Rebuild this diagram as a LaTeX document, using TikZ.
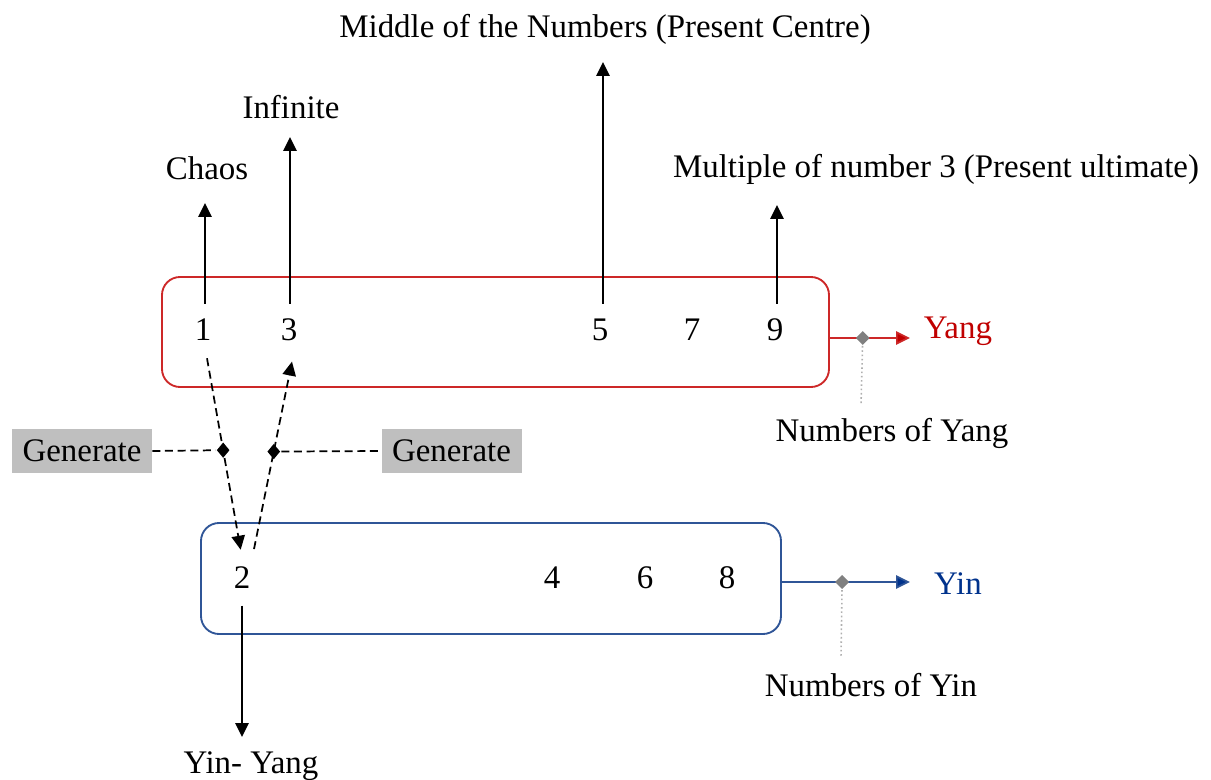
\documentclass[tikz,border=0pt]{standalone}
\usepackage{fontspec}
\setmainfont{Liberation Serif}
\usetikzlibrary{arrows.meta,shapes.geometric}
\definecolor{yangred}{RGB}{205,40,40}
\definecolor{yangtext}{RGB}{192,0,0}
\definecolor{yinblue}{RGB}{47,85,151}
\definecolor{yintext}{RGB}{0,50,140}
\definecolor{genfill}{RGB}{191,191,191}
\definecolor{markgray}{RGB}{128,128,128}
\definecolor{dotgray}{RGB}{175,175,175}
\begin{document}
\begin{tikzpicture}[x=0.75pt,y=-0.75pt,
  every node/.style={font=\fontsize{24.7}{29}\selectfont},
  num/.style={inner sep=0pt,minimum height=39pt},
  lab/.style={inner sep=0pt},
  tip/.style={-{Triangle[length=10.5pt,width=10pt]}},
  arr/.style={line width=1.3pt,tip},
  dashes/.style={line width=1.3pt,dash pattern=on 6pt off 3.5pt},
  darr/.style={dashes,tip},
  group/.style={draw,line width=1.4pt,rounded corners=13.5pt},
  genbox/.style={fill=genfill,inner sep=0pt,minimum width=105pt,minimum height=33pt},
  blackmark/.style={diamond,fill=black,inner sep=0pt,minimum width=10pt,minimum height=12pt},
  graymark/.style={diamond,fill=markgray,inner sep=0pt,minimum width=11pt,minimum height=11pt},
  note/.style={draw=dotgray,line width=1.2pt,dotted}]
\useasboundingbox (0,0) rectangle (1211,780);

% the two groups of numbers
\node[group,draw=yangred,minimum width=500.25pt,minimum height=82.5pt] (yangbox) at (495.5,332) {};
\node[group,draw=yinblue,minimum width=435pt,minimum height=83.25pt] (yinbox) at (491,578.5) {};

% odd numbers
\node[num] (n1) at (203,330) {1};
\node[num] (n3) at (289,330) {3};
\node[num] (n5) at (600,330) {5};
\node[num] (n7) at (692,330) {7};
\node[num] (n9) at (775,330) {9};
% even numbers
\node[num] (n2) at (242,578) {2};
\node[num] (n4) at (552,578) {4};
\node[num] (n6) at (645,578) {6};
\node[num] (n8) at (727,578) {8};

% labels
\node[lab] (chaos) at (207,168) {Chaos};
\node[lab] (infinite) at (291,107) {Infinite};
\node[lab] (middle) at (605,29) {Middle of the Numbers (Present Centre)};
\node[lab] (multiple) at (936,169) {Multiple of number 3 (Present ultimate)};
\node[lab,text=yangtext] (yang) at (958,331) {Yang};
\node[lab,text=yintext] (yin) at (958,584) {Yin};
\node[lab] (numyang) at (892,433) {Numbers of Yang};
\node[lab] (numyin) at (871,685) {Numbers of Yin};
\node[lab] (yinyang) at (251,766) {Yin- Yang};
\node[genbox] (gen1) at (82,451) {Generate};
\node[genbox] (gen2) at (451.5,451) {Generate};

% arrow tips
\coordinate (t1) at (205,203);
\coordinate (t3) at (290,137);
\coordinate (t5) at (603,62);
\coordinate (t9) at (777,205);
\coordinate (t2) at (242,737);
\coordinate (tyang) at (910,338);
\coordinate (tyin) at (910,582);
\coordinate (eyang) at (861,405);
\coordinate (eyin) at (841,658);

% arrows to the labels
\draw[arr] ([xshift=1.5pt]n1.north) -- (t1);
\draw[arr] ([xshift=0.75pt]n3.north) -- (t3);
\draw[arr] ([xshift=2.25pt]n5.north) -- (t5);
\draw[arr] ([xshift=1.5pt]n9.north) -- (t9);
\draw[arr] ([yshift=-1pt]n2.south) -- (t2);

% generation between the groups
\draw[darr] ([xshift=3pt,yshift=-1.5pt]n1.south) -- node[blackmark,pos=0.48] (d1) {} ([xshift=-1pt,yshift=1.5pt]n2.north);
\draw[darr] ([xshift=9pt,yshift=2pt]n2.north) -- node[blackmark,pos=0.52] (d2) {} ([xshift=2.25pt,yshift=-4pt]n3.south);
\draw[dashes] (gen1.east) -- (d1);
\draw[dashes] (d2) -- (gen2.west);

% outputs of the groups
\draw[line width=1.3pt,draw=yangred,-{Triangle[length=10.5pt,width=10pt,fill=yangtext]}] ([yshift=-4.5pt]yangbox.east) -- node[graymark,pos=0.41] (gy) {} (tyang);
\draw[line width=1.3pt,draw=yinblue,-{Triangle[length=10.5pt,width=10pt,fill=yintext]}] ([yshift=-2.6pt]yinbox.east) -- node[graymark,pos=0.47] (gi) {} (tyin);
\draw[note] (gy) -- (eyang);
\draw[note] (gi) -- (eyin);
\end{tikzpicture}
\end{document}
